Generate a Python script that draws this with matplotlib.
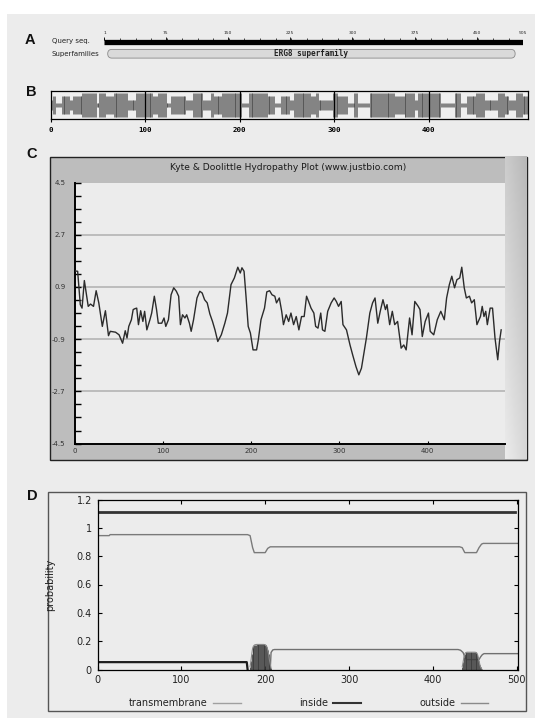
import numpy as np
import matplotlib
matplotlib.use("Agg")
import matplotlib.pyplot as plt
from matplotlib.patches import Rectangle, FancyBboxPatch
from matplotlib.lines import Line2D

# ---------------- data ----------------
# Panel A: conserved-domain ruler
ruler_ticks = [1, 75, 150, 225, 300, 375, 450, 505]
seq_length = 505
superfamily_name = "ERG8 superfamily"
superfamily_start = 5
superfamily_end = 496

# Panel B: per-residue barcode (segments: start, end, level 0..3)
bar_start = [0, 2, 5, 11, 20, 23, 33, 48, 51, 58, 66, 81, 90, 108, 113, 122, 127, 143, 150, 161, 169, 172,
             181, 202, 209, 229, 237, 243, 253, 257, 275, 280, 283, 298, 303, 314, 321, 325, 337, 364, 374,
             385, 388, 413, 427, 434, 440, 450, 459, 473, 480, 485, 492, 499]
bar_end = [2, 5, 11, 20, 23, 33, 48, 51, 58, 66, 81, 90, 108, 113, 122, 127, 143, 150, 161, 169, 172, 181,
           202, 209, 229, 237, 243, 253, 257, 275, 280, 283, 298, 303, 314, 321, 325, 337, 364, 374, 385,
           388, 413, 427, 434, 440, 450, 459, 473, 480, 485, 492, 499, 505]
bar_level = [1, 2, 0, 2, 1, 2, 3, 0, 3, 2, 3, 1, 3, 2, 3, 0, 2, 1, 3, 1, 3, 2,
             3, 0, 3, 2, 0, 2, 1, 3, 2, 3, 1, 3, 2, 0, 3, 0, 3, 2, 3,
             1, 3, 0, 3, 0, 2, 3, 1, 3, 2, 1, 3, 2]
bar_ticks = [0, 100, 200, 300, 400]

# Panel C: Kyte & Doolittle hydropathy
hydro_x = [0, 3, 6, 8, 10.6, 13, 15, 17.6, 21, 24, 27, 31, 34.5, 38, 40, 46, 50, 54, 57, 59, 61, 64, 66, 68,
           70, 72, 74.5, 77, 79, 81.5, 85, 87, 90, 92.5, 94.5, 98.4, 101, 103, 106, 109, 112, 115, 117.6,
           119.6, 122, 124.7, 126.7, 129.8, 131.8, 134.5, 138.4, 141.6, 144.3, 147, 150, 153, 156, 158.8,
           162, 166, 170, 173, 177, 180.8, 184.7, 187.5, 189.4, 191.8, 194, 196.5, 199, 202, 206, 208, 211,
           215, 217.6, 220.8, 223.5, 226.7, 228.6, 231.8, 234.5, 236.5, 239.6, 242.4, 245, 248, 251, 254,
           257, 260, 262.7, 265, 267.8, 271, 273, 275.7, 278.8, 280.8, 283.5, 286.7, 290.6, 294, 296.5,
           299, 302, 304, 308, 312, 315, 318.8, 322, 325, 327.5, 330.6, 334.5, 337.6, 340.4, 343.5, 346.3,
           349.4, 352.2, 354, 357, 360, 362.7, 366, 370, 373, 375.7, 379.6, 382.4, 385.5, 389.4, 391.4,
           394, 397.3, 401, 403, 407, 411, 415, 419, 421.6, 424.7, 427.5, 430.6, 433.3, 436.5, 438.8,
           441.6, 444, 447.5, 450, 453, 456, 460, 462, 464, 466, 467.8, 471, 473.7, 476.5, 479.6, 481.6,
           483.5]
hydro_y = [1.45, 1.44, 0.29, 0.17, 1.12, 0.63, 0.23, 0.31, 0.23, 0.77, 0.35, -0.46, 0.08, -0.78, -0.63,
           -0.66, -0.75, -1.04, -0.61, -0.86, -0.46, -0.23, 0.12, 0.15, 0.17, -0.40, 0.08, -0.29, 0.06,
           -0.58, -0.23, 0.00, 0.58, 0.12, -0.35, -0.35, -0.17, -0.46, -0.23, 0.63, 0.87, 0.75, 0.58,
           -0.40, -0.06, -0.17, -0.06, -0.35, -0.63, -0.23, 0.52, 0.75, 0.69, 0.46, 0.35, -0.03, -0.29,
           -0.58, -0.98, -0.75, -0.35, 0.00, 0.98, 1.21, 1.58, 1.38, 1.56, 1.44, 0.58, -0.46, -0.69, -1.27,
           -1.27, -0.92, -0.23, 0.17, 0.73, 0.77, 0.63, 0.58, 0.35, 0.52, 0.06, -0.40, -0.06, -0.29, 0.00,
           -0.40, -0.12, -0.58, -0.12, -0.12, 0.58, 0.40, 0.17, 0.00, -0.46, -0.52, 0.00, -0.58, -0.63,
           0.06, 0.35, 0.52, 0.40, 0.23, 0.40, -0.40, -0.58, -1.10, -1.44, -1.85, -2.13, -1.90, -1.44,
           -0.86, 0.00, 0.35, 0.52, -0.35, 0.06, 0.46, 0.12, 0.29, -0.40, 0.06, -0.40, -0.29, -1.21, -1.10,
           -1.27, -0.17, -0.75, 0.40, 0.23, 0.12, -0.81, -0.29, 0.00, -0.63, -0.75, -0.23, 0.06, -0.23,
           0.52, 0.98, 1.27, 0.87, 1.15, 1.21, 1.58, 0.87, 0.52, 0.58, 0.35, 0.46, -0.40, -0.12, 0.23,
           -0.12, 0.06, -0.40, 0.17, 0.17, -0.86, -1.61, -0.98, -0.58]
hydro_yticks = [4.5, 2.7, 0.9, -0.9, -2.7, -4.5]
hydro_grid = [2.7, 0.9, -0.9, -2.7]
hydro_xticks = [0, 100, 200, 300, 400]

# Panel D: TMHMM posterior probabilities
top_x = [0, 498]
top_y = [1.11, 1.11]
outside_x = [0, 14, 15, 179, 182, 185, 187, 200, 203, 206, 432, 435, 438, 452, 455, 458, 460, 501]
outside_y = [0.945, 0.945, 0.952, 0.952, 0.945, 0.86, 0.825, 0.825, 0.855, 0.866, 0.866, 0.86, 0.825,
             0.825, 0.86, 0.885, 0.89, 0.89]
inside1_x = [0, 178, 179]
inside1_y = [0.052, 0.052, 0.0]
inside2_x = [206, 207, 209, 211, 430, 433, 436, 438, 440, 455, 457, 459, 461, 501]
inside2_y = [0.0, 0.12, 0.138, 0.141, 0.141, 0.136, 0.12, 0.09, 0.07, 0.07, 0.09, 0.105, 0.112, 0.112]
tm1_x = list(range(182, 208))
tm1_h = [0.02, 0.06, 0.11, 0.15, 0.165, 0.172, 0.175, 0.176, 0.177, 0.177, 0.177, 0.177, 0.177, 0.177,
         0.177, 0.177, 0.177, 0.176, 0.175, 0.17, 0.16, 0.14, 0.11, 0.07, 0.035, 0.01]
tm2_x = list(range(435, 459))
tm2_h = [0.02, 0.05, 0.09, 0.11, 0.118, 0.121, 0.122, 0.122, 0.122, 0.122, 0.122, 0.122, 0.122, 0.122,
         0.122, 0.122, 0.121, 0.118, 0.11, 0.09, 0.06, 0.035, 0.015, 0.005]
prob_yticks = [0, 0.2, 0.4, 0.6, 0.8, 1.0, 1.2]
prob_ylabels = ["0", "0.2", "0.4", "0.6", "0.8", "1", "1.2"]
prob_xticks = [0, 100, 200, 300, 400, 500]
legend_labels = ["transmembrane", "inside", "outside"]

# ---------------- figure ----------------
W, H = 542, 720
fig = plt.figure(figsize=(W / 100, H / 100), dpi=100)
fig.patch.set_facecolor("white")


def px_axes(x0, y0, x1, y1, **kw):
    return fig.add_axes([x0 / W, 1 - y1 / H, (x1 - x0) / W, (y1 - y0) / H], **kw)


bg = px_axes(0, 0, W, H)
bg.set_zorder(-10)
bg.axis("off")
bg.add_patch(Rectangle((7, 13.5), 528, 704, facecolor="#ececec", edgecolor="none"))

# panel letters
for lab, (lx, ly) in zip("ABCD", [(29.7, 39.8), (31, 91.5), (32, 154), (32, 496)]):
    bg.text(lx, ly, lab, fontsize=10.5, fontweight="bold", family="Liberation Sans",
            ha="center", va="center", color="#111")

# ---- Panel A ----
bg.text(51.8, 40.8, "Query seq.", fontsize=5, ha="left", va="center", color="#222")
bg.text(51.8, 53.6, "Superfamilies", fontsize=5, ha="left", va="center", color="#222")
axA = px_axes(104.4, 29, 522.6, 60)
axA.set_xlim(1, seq_length)
axA.set_ylim(31, 0)
axA.axis("off")
axA.hlines(12.6, 1, seq_length, color="black", lw=3.8)
minor_a = np.arange(1, seq_length + 1, 18.75)
axA.vlines(minor_a, 9, 11, color="black", lw=0.5)
axA.vlines(ruler_ticks, 8, 11, color="black", lw=0.6)
for t in ruler_ticks:
    axA.text(t, 4.5, str(t), fontsize=3.2, ha="center", va="center", color="#222")
sf = FancyBboxPatch((superfamily_start, 20.4), superfamily_end - superfamily_start, 8.7,
                    boxstyle="round,pad=0,rounding_size=5", mutation_aspect=0.85,
                    facecolor="#dadada", edgecolor="#8a8a8a", lw=0.6)
axA.add_patch(sf)
axA.text((superfamily_start + superfamily_end) / 2, 24.8, superfamily_name, fontsize=5.6,
         family="DejaVu Sans Mono", fontweight="bold", ha="center", va="center", color="#222")

# ---- Panel B ----
axB = px_axes(50.8, 90.6, 527.8, 119.2)
axB.set_facecolor("#efefef")
axB.set_xlim(0, seq_length)
axB.set_ylim(-14.3, 14.3)
level_half = [2.3, 5.0, 9.0, 12.3]
bx, bh = [], []
for s, e, l in zip(bar_start, bar_end, bar_level):
    for r in range(s, e):
        bx.append(r + 0.5)
        bh.append(level_half[l])
bh = np.array(bh)
axB.vlines(bx, -bh, bh, color="#3a3a3a", lw=0.42)
for t in bar_ticks[1:]:
    axB.axvline(t, color="black", lw=0.9)
for sp in axB.spines.values():
    sp.set_linewidth(0.9)
    sp.set_color("black")
axB.set_xticks(bar_ticks)
axB.set_xticklabels([str(t) for t in bar_ticks], fontsize=5.3, family="DejaVu Sans Mono",
                    fontweight="bold")
axB.tick_params(axis="x", length=2.5, width=0.8, pad=3)
axB.set_yticks([])

# ---- Panel C ----
bg.add_patch(Rectangle((50.1, 156.6), 477, 303.1, facecolor="#bdbdbd", edgecolor="#222", lw=1, zorder=1))
grad_h = np.linspace(0.0, 1.0, 40)
grad_v = np.linspace(0.0, 1.0, 60)
grad = 0.80 + 0.12 * grad_v[:, None] - 0.08 * grad_h[None, :]
bg.imshow(grad, extent=(505.4, 526.6, 459.2, 157.1), aspect="auto", cmap="gray", vmin=0, vmax=1,
          zorder=2, interpolation="bilinear")
bg.text(288.6, 167, "Kyte & Doolittle Hydropathy Plot (www.justbio.com)", fontsize=6.6,
        ha="center", va="center", color="#1a1a1a")

axC = px_axes(75, 182.5, 505.4, 443.6)
axC.set_facecolor("#ececec")
axC.set_xlim(0, 488.3)
axC.set_ylim(-4.5, 4.5)
for g in hydro_grid:
    axC.axhline(g, color="#b4b4b4", lw=1.2, zorder=1)
axC.plot(hydro_x, hydro_y, color="#2b2b2b", lw=1.0, zorder=3)
axC.spines["top"].set_visible(False)
axC.spines["right"].set_visible(False)
axC.spines["left"].set_linewidth(1.4)
axC.spines["bottom"].set_linewidth(1.4)
axC.set_yticks(hydro_yticks)
axC.set_yticklabels([f"{v:.1f}" for v in hydro_yticks], fontsize=5, color="#333")
axC.set_yticks(np.arange(-4.5, 4.51, 0.45), minor=True)
axC.tick_params(axis="y", which="both", direction="in", length=4, width=1, pad=7)
axC.set_xticks(hydro_xticks)
axC.set_xticklabels([str(v) for v in hydro_xticks], fontsize=5, color="#333")
axC.tick_params(axis="x", direction="in", length=2, width=0.8, pad=3.5)

# ---- Panel D ----
bg.add_patch(Rectangle((47.7, 491.8), 478.7, 219.2, facecolor="none", edgecolor="#555", lw=1, zorder=1))
axD = px_axes(97.5, 499.5, 518.0, 669.5)
axD.set_facecolor("none")
axD.set_xlim(0, 501.5)
axD.set_ylim(0, 1.2)
axD.plot(top_x, top_y, color="#333333", lw=2.0)
axD.plot(outside_x, outside_y, color="#7a7a7a", lw=1.0)
axD.plot(inside2_x, inside2_y, color="#707070", lw=1.0)
axD.vlines(tm1_x, 0, tm1_h, color="#3c3c3c", lw=0.6)
axD.vlines(tm2_x, 0, tm2_h, color="#3c3c3c", lw=0.6)
axD.plot(tm1_x, tm1_h, color="#8a8a8a", lw=0.8)
axD.plot(tm2_x, tm2_h, color="#8a8a8a", lw=0.8)
axD.plot(inside1_x, inside1_y, color="#1e1e1e", lw=1.6)
for sp in axD.spines.values():
    sp.set_linewidth(0.9)
    sp.set_color("black")
axD.set_yticks(prob_yticks)
axD.set_yticklabels(prob_ylabels, fontsize=7, color="#222")
axD.set_xticks(prob_xticks)
axD.set_xticklabels([str(v) for v in prob_xticks], fontsize=7, color="#222")
axD.tick_params(direction="in", length=3, width=0.8, top=True, right=True, pad=4)
axD.set_ylabel("probability", fontsize=7, color="#222")
axD.yaxis.set_label_coords((55.3 - 97.5) / 420.5, 0.5)
handles = [Line2D([], [], color="#a0a0a0", lw=1.0),
           Line2D([], [], color="#333333", lw=1.5),
           Line2D([], [], color="#8a8a8a", lw=1.0)]
axD.legend(handles, legend_labels, ncol=3, markerfirst=False, frameon=False, fontsize=7,
           loc="center", bbox_to_anchor=(0.502, -0.2), columnspacing=6.0, handlelength=2.85,
           handletextpad=0.55, labelcolor="#222")

bg.set_xlim(0, W)
bg.set_ylim(H, 0)

fig.savefig("out.png", dpi=100, facecolor="white")
